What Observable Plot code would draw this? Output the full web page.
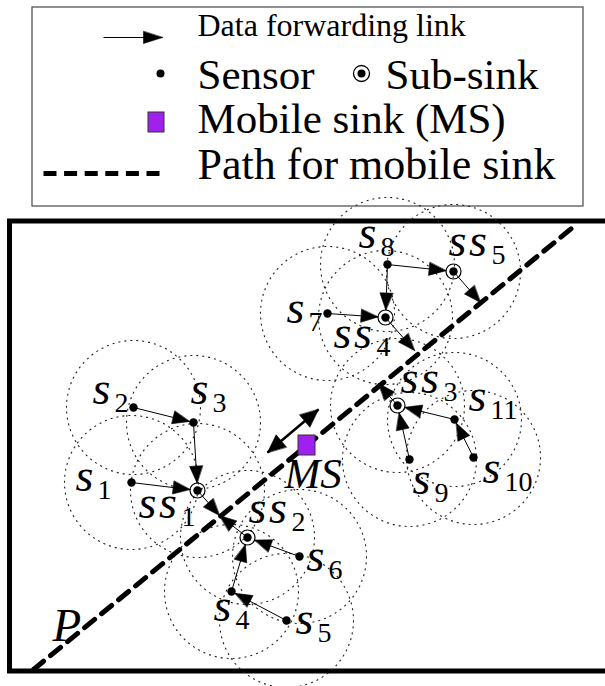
<!DOCTYPE html>
<html><head><meta charset="utf-8">
<script src="https://cdn.jsdelivr.net/npm/d3@7"></script>
<script src="https://cdn.jsdelivr.net/npm/@observablehq/plot@0.6"></script>
<style>body{margin:0;background:#fff} #chart svg text{font-family:"Liberation Serif",serif !important}</style>
</head><body><div id="chart"></div>
<script>
// ---------- data ----------
const nodeNames = ["s1","s2","s3","s4","s5","s6","s7","s8","s9","s10","s11","ss1","ss2","ss3","ss4","ss5"];
const nodeX = [131,133,193,231,286,299,327,387,409,473,454,197,247,397,385,453];
const nodeY = [482,407,422,591,620,556,313,264,459,457,419,490,537,405,317,271];
const nodeType = ["sensor","sensor","sensor","sensor","sensor","sensor","sensor","sensor","sensor","sensor","sensor",
                  "subsink","subsink","subsink","subsink","subsink"];
// points where sub-sinks hand data to the mobile-sink path
const hitNames = ["h12","h3","h4","h5"];
const hitX = [219,378,414,480];
const hitY = [515,383,350,302];
// data forwarding links
const linkFrom = ["s1","s2","s3","ss1","s6","s4","s5","ss2","s9","s10","s11","ss3","s7","s8","ss4","s8","ss5"];
const linkTo   = ["ss1","s3","ss1","h12","ss2","ss2","s4","h12","ss3","s11","ss3","h3","ss4","ss4","h4","ss5","h5"];
// node labels ("main|subscript")
const labelText = ["s|1","s|2","s|3","s|4","s|5","s|6","s|7","s|8","s|9","s|10","s|11","ss|1","ss|2","ss|3","ss|4","ss|5"];
const labelX = [75,92,190,213,295,306,286,358,412,482,468,138,248,400,333,448];
const labelY = [490,403,403,620,633,570,322,247,493,482,410,517,522,392,347,255];
// mobile sink and its path
const msX = [306.5], msY = [445];
const msArrowX = [267,318], msArrowY = [452,409];
const pathX = [33,577], pathY = [669,223];
// legend texts
const legendText = ["Data forwarding link","Sensor","Sub-sink","Mobile sink (MS)","Path for mobile sink"];

// ---------- build tables ----------
const nodes = nodeNames.map((name,i)=>({name, x:nodeX[i], y:nodeY[i], type:nodeType[i]}));
const pts = Object.fromEntries(nodes.map(n=>[n.name,n]));
hitNames.forEach((n,i)=>{pts[n] = {name:n, x:hitX[i], y:hitY[i], type:"hit"};});
const inset = {sensor:4, subsink:7.5, hit:0};

function head(ax,ay,bx,by,ins,len,half,id){
  const dx=bx-ax, dy=by-ay, d=Math.hypot(dx,dy), ux=dx/d, uy=dy/d;
  const tx=bx-ux*ins, ty=by-uy*ins, bxx=tx-ux*len, byy=ty-uy*len;
  return [{id,x:tx,y:ty},{id,x:bxx-uy*half,y:byy+ux*half},{id,x:bxx+uy*half,y:byy-ux*half}];
}
const links = linkFrom.map((f,i)=>{
  const a=pts[f], b=pts[linkTo[i]];
  const h=head(a.x,a.y,b.x,b.y,inset[b.type],17,6.5,"l"+i);
  return {x1:a.x,y1:a.y,x2:h[0].x,y2:h[0].y,head:h};
});
const heads = links.flatMap(l=>l.head);
const msHeads = [
  ...head(msArrowX[0],msArrowY[0],msArrowX[1],msArrowY[1],0,18,8,"m1"),
  ...head(msArrowX[1],msArrowY[1],msArrowX[0],msArrowY[0],0,18,8,"m2")
];
const labels = labelText.map((t,i)=>{const [m,s]=t.split("|"); return {m,s,x:labelX[i],y:labelY[i]};});
const subsinks = nodes.filter(n=>n.type==="subsink");
const path = pathX.map((x,i)=>({x,y:pathY[i]}));

const SERIF = "Liberation Serif";
const legArrow = head(103,37,162,37,0,19,6,"lg");

const plot = Plot.plot({
  width:605, height:686, margin:0,
  x:{domain:[0,605], range:[0,605], axis:null},
  y:{domain:[0,686], range:[0,686], axis:null},
  style:{background:"white"},
  marks:[
    // frames
    Plot.rect([0],{x1:9.5,x2:660,y1:221,y2:671,fill:"none",stroke:"black",strokeWidth:5}),
    Plot.rect([0],{x1:32,x2:583,y1:7,y2:206,fill:"none",stroke:"#555",strokeWidth:1.3}),
    // communication ranges
    Plot.dot(nodes,{x:"x",y:"y",r:67,fill:"none",stroke:"#222",strokeWidth:1.1,strokeDasharray:"2,4"}),
    // mobile sink path
    Plot.line(path,{x:"x",y:"y",stroke:"black",strokeWidth:5,strokeDasharray:"13,9"}),
    // links
    Plot.link(links,{x1:"x1",y1:"y1",x2:"x2",y2:"y2",stroke:"black",strokeWidth:1}),
    Plot.line(heads,{x:"x",y:"y",z:"id",fill:"black",stroke:"black",strokeWidth:0.6,curve:"linear-closed"}),
    // nodes
    Plot.dot(nodes,{x:"x",y:"y",r:4.2,fill:"black",stroke:"none"}),
    Plot.dot(subsinks,{x:"x",y:"y",r:7.5,fill:"none",stroke:"black",strokeWidth:1.2}),
    // mobile sink
    Plot.link([0],{x1:msArrowX[0],y1:msArrowY[0],x2:msArrowX[1],y2:msArrowY[1],stroke:"black",strokeWidth:2.5}),
    Plot.line(msHeads,{x:"x",y:"y",z:"id",fill:"black",stroke:"black",strokeWidth:0.6,curve:"linear-closed"}),
    Plot.rect([0],{x1:msX[0]-8.5,x2:msX[0]+8.5,y1:msY[0]-10,y2:msY[0]+10,fill:"#a020f0",stroke:"#333",strokeWidth:1}),
    // labels
    Plot.text(labels,{x:"x",y:"y",text:"m",textAnchor:"start",lineAnchor:"bottom",fontSize:46,fontStyle:"italic",fontFamily:SERIF,className:"mainlbl"}),
    Plot.text(labels,{x:d=>d.x+21*d.m.length+1,y:d=>d.y+8,text:"s",textAnchor:"start",lineAnchor:"bottom",fontSize:28,fontFamily:SERIF}),
    Plot.text(["MS"],{x:284,y:487,text:d=>d,textAnchor:"start",lineAnchor:"bottom",fontSize:43,fontStyle:"italic",fontFamily:SERIF}),
    Plot.text(["P"],{x:52,y:640,text:d=>d,textAnchor:"start",lineAnchor:"bottom",fontSize:47,fontStyle:"italic",fontFamily:SERIF}),
    // legend
    Plot.link([0],{x1:103,y1:37,x2:legArrow[0].x,y2:37,stroke:"black",strokeWidth:1}),
    Plot.line(legArrow,{x:"x",y:"y",z:"id",fill:"black",stroke:"black",strokeWidth:0.6,curve:"linear-closed"}),
    Plot.dot([0],{x:160,y:73,r:4,fill:"black"}),
    Plot.dot([0],{x:361,y:73,r:4,fill:"black"}),
    Plot.dot([0],{x:361,y:73,r:8,fill:"none",stroke:"black",strokeWidth:1.3}),
    Plot.rect([0],{x1:148,x2:164,y1:112,y2:132,fill:"#a020f0",stroke:"#333",strokeWidth:1}),
    Plot.link([0],{x1:43,y1:173,x2:159,y2:173,stroke:"black",strokeWidth:5,strokeDasharray:"13,7.6"}),
    Plot.text([legendText[0]],{x:197,y:35,text:d=>d,textAnchor:"start",lineAnchor:"bottom",fontSize:32,fontFamily:SERIF}),
    Plot.text([legendText[1]],{x:197,y:88,text:d=>d,textAnchor:"start",lineAnchor:"bottom",fontSize:43,fontFamily:SERIF}),
    Plot.text([legendText[2]],{x:385,y:88,text:d=>d,textAnchor:"start",lineAnchor:"bottom",fontSize:43,fontFamily:SERIF}),
    Plot.text([legendText[3]],{x:197,y:132,text:d=>d,textAnchor:"start",lineAnchor:"bottom",fontSize:43,fontFamily:SERIF}),
    Plot.text([legendText[4]],{x:197,y:178,text:d=>d,textAnchor:"start",lineAnchor:"bottom",fontSize:44,fontFamily:SERIF})
  ]
});
plot.querySelectorAll(".mainlbl text").forEach(t=>t.style.letterSpacing="2.5px");
document.getElementById("chart").appendChild(plot);
</script>
</body></html>
